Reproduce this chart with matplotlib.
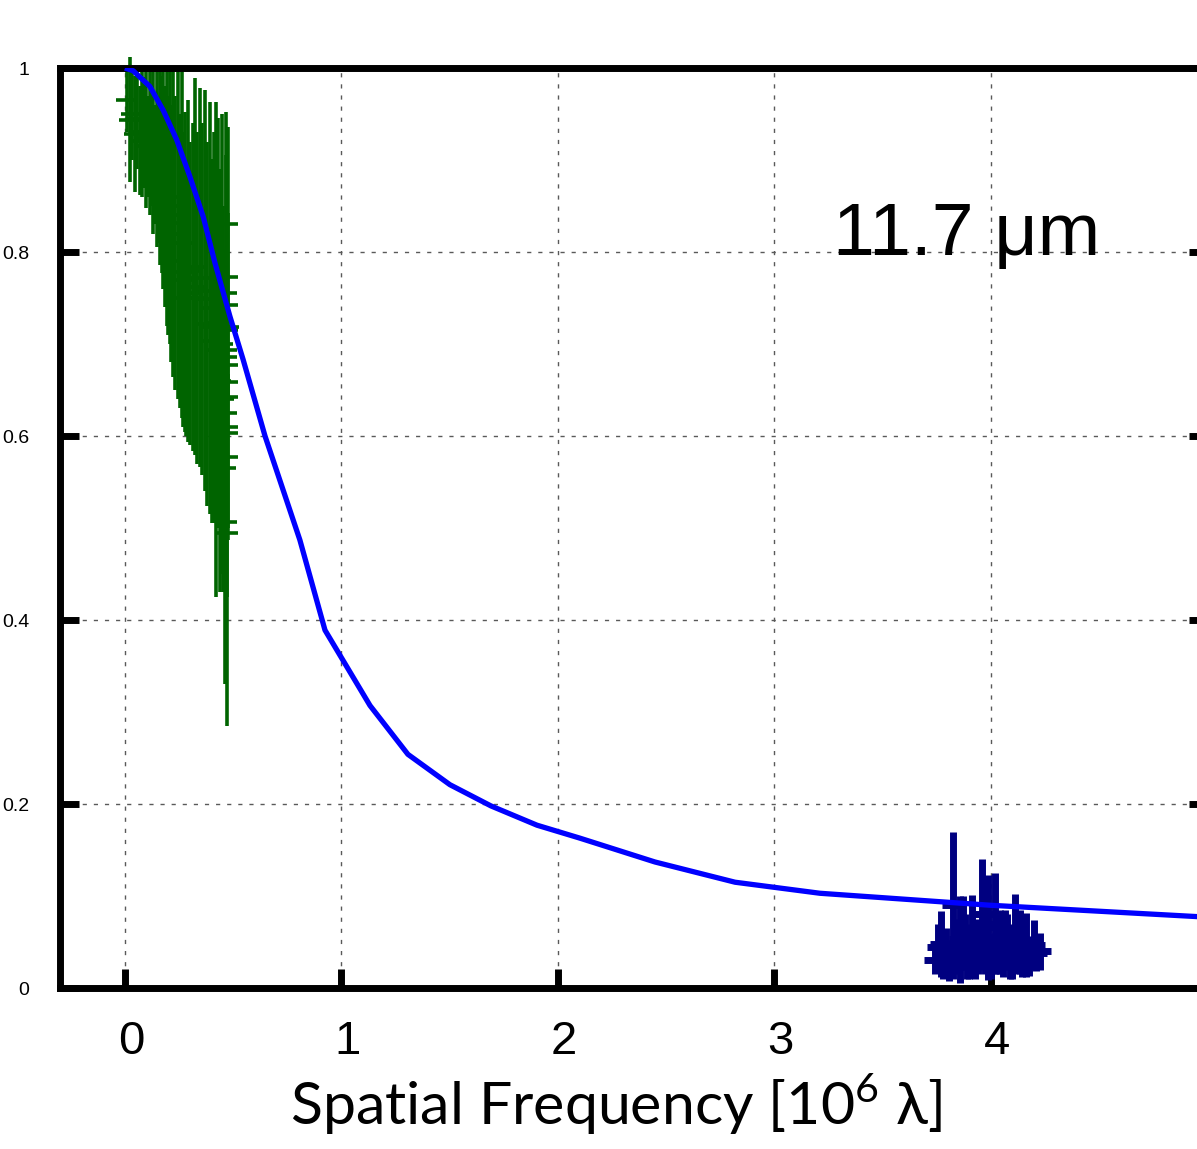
#!/usr/bin/env python3
"""
Visibility vs spatial frequency at 11.7 um
Model curve plus short and long baseline measurements
"""
import matplotlib
matplotlib.use('Agg')
import matplotlib.pyplot as plt
from matplotlib.transforms import ScaledTranslation

# Model visibility curve
model_x = [0.0, 0.038, 0.115, 0.177, 0.239, 0.300, 0.362, 0.416, 0.485, 0.546,
           0.647, 0.808, 0.924, 1.132, 1.307, 1.501, 1.690, 1.903, 2.100, 2.448,
           2.818, 3.210, 3.995, 5.0]
model_y = [1.0, 0.997, 0.980, 0.954, 0.922, 0.882, 0.838, 0.788, 0.730, 0.683,
           0.600, 0.487, 0.389, 0.307, 0.254, 0.221, 0.198, 0.177, 0.163, 0.137,
           0.115, 0.103, 0.090, 0.077]

# Short baseline data (green)
short_x = [0.008, 0.022, 0.034, 0.046, 0.058, 0.069, 0.080, 0.090, 0.098, 0.108,
           0.116, 0.124, 0.131, 0.139, 0.148, 0.155, 0.162, 0.170, 0.178, 0.186,
           0.194, 0.201, 0.208, 0.215, 0.222, 0.232, 0.245, 0.253, 0.263, 0.270,
           0.277, 0.284, 0.291, 0.302, 0.314, 0.323, 0.335, 0.346, 0.358, 0.370,
           0.380, 0.393, 0.402, 0.412, 0.420, 0.428, 0.439, 0.448, 0.455, 0.461,
           0.467, 0.473, 0.478,
           0.470, 0.472, 0.468, 0.474, 0.471, 0.469, 0.473, 0.470, 0.472, 0.468,
           0.471, 0.474, 0.469, 0.472]
short_y = [0.965, 0.944, 0.950, 0.928, 0.945, 0.921, 0.930, 0.930, 0.924, 0.915,
           0.920, 0.915, 0.910, 0.895, 0.903, 0.890, 0.893, 0.884, 0.880, 0.860,
           0.860, 0.840, 0.850, 0.820, 0.832, 0.810, 0.820, 0.790, 0.810, 0.770,
           0.778, 0.750, 0.779, 0.755, 0.762, 0.784, 0.750, 0.772, 0.749, 0.758,
           0.722, 0.739, 0.703, 0.718, 0.694, 0.723, 0.660, 0.700, 0.640, 0.565,
           0.686, 0.610, 0.718,
           0.830, 0.773, 0.755, 0.742, 0.715, 0.693, 0.677, 0.659, 0.642, 0.625,
           0.603, 0.577, 0.507, 0.495]
short_err = [0.035, 0.068, 0.050, 0.063, 0.055, 0.059, 0.070, 0.060, 0.076, 0.055,
             0.080, 0.065, 0.090, 0.065, 0.098, 0.080, 0.107, 0.107, 0.120, 0.120,
             0.140, 0.130, 0.150, 0.140, 0.168, 0.160, 0.180, 0.160, 0.190, 0.160,
             0.174, 0.150, 0.186, 0.165, 0.178, 0.205, 0.180, 0.206, 0.191, 0.218,
             0.198, 0.224, 0.198, 0.212, 0.269, 0.223, 0.230, 0.250, 0.210, 0.235,
             0.266, 0.325, 0.218,
             0.100, 0.120, 0.150, 0.100, 0.130, 0.110, 0.140, 0.120, 0.100, 0.130,
             0.110, 0.090, 0.080, 0.070]
short_xerr = 0.05

# Long baseline data (navy)
long_x = [3.740, 3.770, 3.790, 3.824, 3.857, 3.871, 3.890, 3.912, 3.940, 3.958,
          3.986, 4.018, 4.040, 4.065, 4.087, 4.110, 4.134, 4.160, 4.199, 4.226,
          3.755, 3.780, 3.805, 3.840, 3.880, 3.900, 3.925, 3.970, 4.000, 4.030,
          4.055, 4.075, 4.098, 4.122, 4.145, 4.175, 4.210]
long_y = [0.030, 0.048, 0.040, 0.090, 0.053, 0.060, 0.040, 0.058, 0.045, 0.080,
          0.066, 0.070, 0.050, 0.055, 0.040, 0.061, 0.050, 0.047, 0.047, 0.040,
          0.045, 0.035, 0.030, 0.045, 0.050, 0.035, 0.040, 0.045, 0.035, 0.045,
          0.040, 0.050, 0.035, 0.045, 0.040, 0.035, 0.038]
long_err = [0.015, 0.036, 0.025, 0.080, 0.047, 0.040, 0.030, 0.043, 0.030, 0.060,
            0.057, 0.055, 0.035, 0.030, 0.030, 0.041, 0.035, 0.035, 0.027, 0.020,
            0.025, 0.025, 0.022, 0.030, 0.030, 0.025, 0.030, 0.030, 0.025, 0.030,
            0.028, 0.030, 0.025, 0.030, 0.028, 0.022, 0.020]
long_xerr = 0.05

x_ticks = [0, 1, 2, 3, 4]
x_labels = ['0', '1', '2', '3', '4']
y_ticks = [0.0, 0.2, 0.4, 0.6, 0.8, 1.0]
y_labels = ['0', '0.2', '0.4', '0.6', '0.8', '1']


def main():
    fig = plt.figure(figsize=(11.97, 11.49), dpi=100)
    ax = fig.add_axes([0.0501, 0.1401, 0.9587, 0.8007])

    ax.errorbar(short_x, short_y, yerr=short_err, xerr=short_xerr, fmt='none',
                ecolor='#006400', elinewidth=2.6, capsize=0, clip_on=False, zorder=2)
    ax.errorbar(long_x, long_y, yerr=long_err, xerr=long_xerr, fmt='none',
                ecolor='#000080', elinewidth=5, capsize=0, zorder=2)
    ax.plot(model_x, model_y, color='#0000ff', linewidth=3.8, zorder=4,
            solid_capstyle='butt')

    ax.set_xlim(-0.3, 5.0)
    ax.set_ylim(0.0, 1.0)

    ax.set_xticks(x_ticks)
    ax.set_xticklabels(x_labels, fontsize=34, family='Liberation Sans')
    ax.set_yticks(y_ticks)
    # the y labels are squeezed into the narrow left margin
    ax.set_yticklabels(y_labels, fontsize=14, family='Liberation Sans')

    ax.tick_params(axis='both', direction='in', length=14, width=5)
    ax.tick_params(axis='x', pad=23, top=False)
    ax.tick_params(axis='y', pad=22, right=True)

    # labels sit a few pixels right of their ticks in the original
    shift = ScaledTranslation(6 / 100, 0, fig.dpi_scale_trans)
    for lab in ax.get_xticklabels():
        lab.set_transform(lab.get_transform() + shift)

    for s in ax.spines.values():
        s.set_linewidth(5)

    ax.grid(True, color='0.35', linewidth=1, dashes=(3, 5))
    ax.set_axisbelow(True)

    ax.text(3.27, 0.797, '11.7 \u03bcm', fontsize=54, family='Liberation Sans',
            ha='left', va='baseline')

    plt.rcParams['mathtext.fontset'] = 'custom'
    plt.rcParams['mathtext.rm'] = 'Lato'
    fig.text(616 / 1197, 1 - 1125 / 1149, 'Spatial Frequency [10$^{\\mathrm{6}}$ \u03bb]',
             fontsize=42.5, family=['Lato', 'DejaVu Sans'], ha='center', va='baseline')

    fig.savefig('out.png', dpi=100)
    plt.close(fig)


if __name__ == '__main__':
    main()
